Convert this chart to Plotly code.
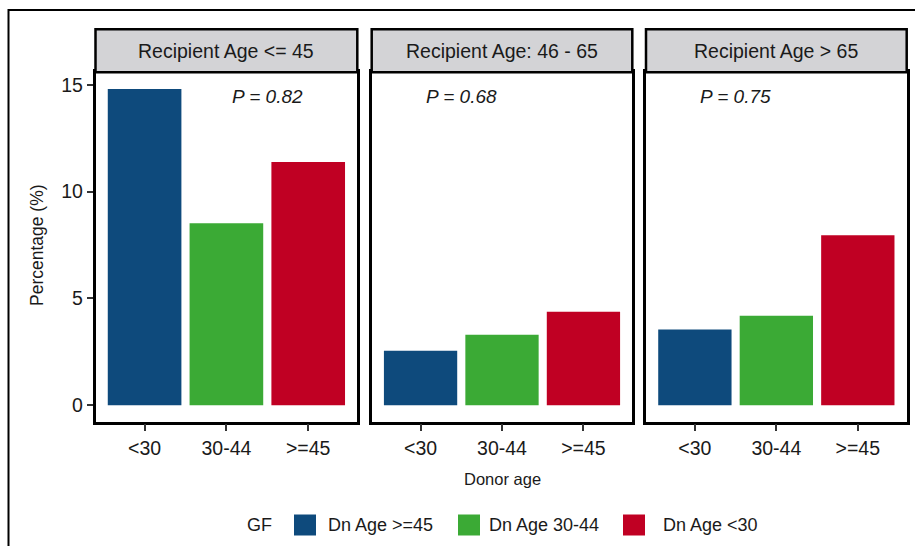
import plotly.graph_objects as go

# ---- data -------------------------------------------------------------
donor_age = ["<30", "30-44", ">=45"]
panels = ["Recipient Age <= 45", "Recipient Age: 46 - 65", "Recipient Age > 65"]
gf_groups = ["Dn Age >=45", "Dn Age 30-44", "Dn Age <30"]
pct_recip_le45 = [14.80, 8.52, 11.38]
pct_recip_46_65 = [2.55, 3.30, 4.38]
pct_recip_gt65 = [3.54, 4.19, 7.95]
p_values = ["0.82", "0.68", "0.75"]
p_label_x = [1.5, 0.5, 0.5]
y_ticks = [0, 5, 10, 15]

panel_values = [pct_recip_le45, pct_recip_46_65, pct_recip_gt65]
colors = ["#0e4a7c", "#3baa35", "#c00023"]

# ---- geometry (pixels) -----------------------------------------------
W, H = 915, 546
panel_px = [(95.5, 357.3), (371.7, 632.3), (646.0, 906.7)]
plot_top, plot_bottom = 72.3, 421.5
strip_top = 29.3

def px(x):
    return x / W

def py(y):
    return 1 - y / H

FONT = "Liberation Sans, Arial, Helvetica, sans-serif"
TXT = "#1a1a1a"

def esc(s):
    return s.replace("<", "&lt;").replace(">", "&gt;")

fig = go.Figure()

for i, vals in enumerate(panel_values):
    ax = "" if i == 0 else str(i + 1)
    for j, cat in enumerate(donor_age):
        fig.add_trace(go.Bar(
            x=[cat], y=[vals[j]], width=0.9,
            marker=dict(color=colors[j], line=dict(width=0)),
            xaxis="x" + ax, yaxis="y" + ax,
            showlegend=False, hoverinfo="x+y",
        ))

layout = dict(
    width=W, height=H,
    margin=dict(l=0, r=0, t=0, b=0),
    plot_bgcolor="white", paper_bgcolor="white",
    barmode="overlay",
    font=dict(family=FONT, size=19, color=TXT),
    shapes=[], annotations=[],
)

for i, (x0, x1) in enumerate(panel_px):
    ax = "" if i == 0 else str(i + 1)
    layout["xaxis" + ax] = dict(
        domain=[px(x0), px(x1)], anchor="y" + ax,
        type="category", categoryorder="array", categoryarray=donor_age,
        range=[-0.6, 2.6], showgrid=False, zeroline=False,
        showline=True, mirror=True, linecolor="black", linewidth=2.5,
        ticks="outside", ticklen=7, tickwidth=1.5, tickcolor="#333",
        tickfont=dict(family=FONT, size=19.5, color=TXT),
        fixedrange=True,
    )
    layout["yaxis" + ax] = dict(
        domain=[py(plot_bottom), py(plot_top)], anchor="x" + ax,
        range=[-0.76, 15.58], showgrid=False, zeroline=False,
        showline=True, mirror=True, linecolor="black", linewidth=2.5,
        tickvals=y_ticks,
        ticks="outside" if i == 0 else "", ticklen=6, tickwidth=1.5, tickcolor="#333",
        showticklabels=(i == 0),
        tickfont=dict(family=FONT, size=19.5, color=TXT),
        fixedrange=True,
    )
    if i > 0:
        layout["yaxis" + ax]["matches"] = "y"

    # facet strip
    layout["shapes"].append(dict(
        type="rect", xref="paper", yref="paper",
        x0=px(x0), x1=px(x1), y0=py(plot_top), y1=py(strip_top),
        fillcolor="#d3d3d6", line=dict(color="black", width=2.5),
    ))
    layout["annotations"].append(dict(
        xref="paper", yref="paper",
        x=px((x0 + x1) / 2), y=py((strip_top + plot_top) / 2),
        text=esc(panels[i]),
        showarrow=False, xanchor="center", yanchor="middle",
        font=dict(family=FONT, size=19.5, color=TXT),
    ))
    # P-value label
    layout["annotations"].append(dict(
        xref="x" + ax, yref="y" + ax, x=p_label_x[i], y=14.45,
        text="<i>P = " + p_values[i] + "</i>",
        showarrow=False, xanchor="center", yanchor="middle",
        font=dict(family=FONT, size=19, color=TXT),
    ))

# outer frame
layout["shapes"].append(dict(
    type="rect", xref="paper", yref="paper",
    x0=px(8.5), x1=px(W + 20), y0=py(H + 20), y1=py(10),
    line=dict(color="black", width=2), fillcolor="rgba(0,0,0,0)", layer="below",
))

# axis titles
layout["annotations"].append(dict(
    xref="paper", yref="paper", x=px(37), y=py(245),
    text="Percentage (%)", textangle=-90, showarrow=False,
    xanchor="center", yanchor="middle",
    font=dict(family=FONT, size=17.5, color=TXT),
))
layout["annotations"].append(dict(
    xref="paper", yref="paper", x=px(502), y=py(479),
    text="Donor age", showarrow=False,
    xanchor="center", yanchor="middle",
    font=dict(family=FONT, size=16.5, color=TXT),
))

# legend
legend_y = 525
layout["annotations"].append(dict(
    xref="paper", yref="paper", x=px(259), y=py(legend_y),
    text="GF", showarrow=False, xanchor="center", yanchor="middle",
    font=dict(family=FONT, size=18, color=TXT),
))
key_x = [294, 458, 623]
label_x = [325.5, 486.5, 661]
for k, name in enumerate(gf_groups):
    layout["shapes"].append(dict(
        type="rect", xref="paper", yref="paper",
        x0=px(key_x[k]), x1=px(key_x[k] + 22),
        y0=py(legend_y + 10.5), y1=py(legend_y - 10.5),
        fillcolor=colors[k], line=dict(width=0),
    ))
    layout["annotations"].append(dict(
        xref="paper", yref="paper", x=px(label_x[k]), y=py(legend_y),
        text=esc(name),
        showarrow=False, xanchor="left", yanchor="middle",
        font=dict(family=FONT, size=18, color=TXT),
    ))

fig.update_layout(**layout)
fig.write_html("out.html")
